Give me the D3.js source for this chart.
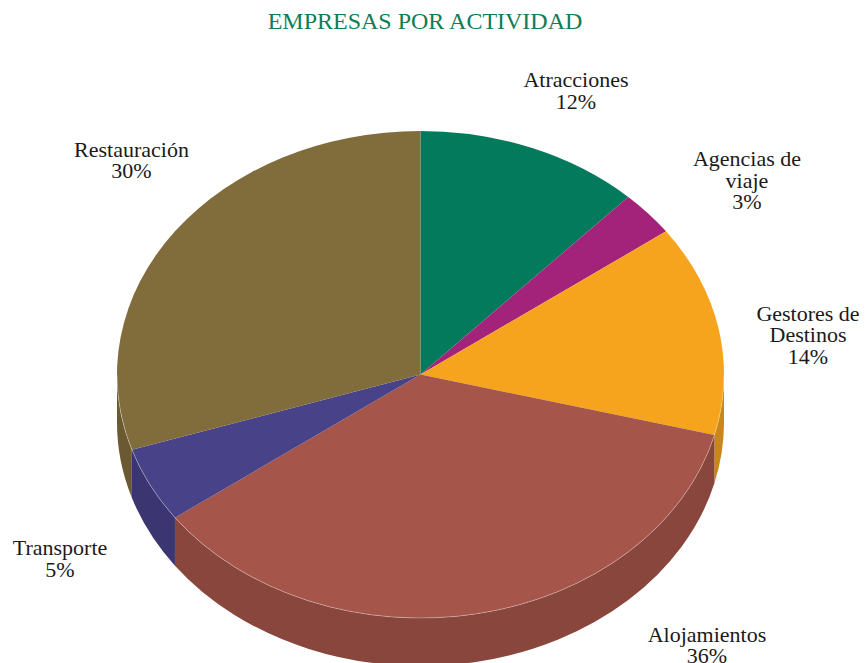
<!DOCTYPE html>
<html>
<head>
<meta charset="utf-8">
<script src="https://cdn.jsdelivr.net/npm/d3@7"></script>
<style>
  body { margin: 0; background: #fff; }
  svg { display: block; font-family: "Liberation Serif", "Times New Roman", serif; }
</style>
</head>
<body>
<div id="chart"></div>
<script>
// data
var categories = ["Atracciones", "Agencias de viaje", "Gestores de Destinos", "Alojamientos", "Transporte", "Restauración"];
var values = [12, 3, 14, 36, 5, 30];
var labelLines = [["Atracciones"], ["Agencias de", "viaje"], ["Gestores de", "Destinos"], ["Alojamientos"], ["Transporte"], ["Restauración"]];
var colors = ["#047a5d", "#a22379", "#f6a41e", "#a5554a", "#484289", "#816c3c"];

const width = 866, height = 663;
const cx = 420.5, cy = 374.5, rx = 303.5, ry = 243.5, depth = 48;

// where each label block is centred (x) and its first baseline (y)
var labelAt = {
  "Atracciones": [576, 87],
  "Agencias de viaje": [747, 166],
  "Gestores de Destinos": [808, 320.5],
  "Alojamientos": [707, 641.5],
  "Transporte": [60, 555],
  "Restauración": [131.5, 156.5]
};

var svg = d3.select("#chart")
  .append("svg")
  .attr("width", width)
  .attr("height", height);

svg.append("text")
  .attr("x", 425)
  .attr("y", 29)
  .attr("text-anchor", "middle")
  .style("font-size", "24px")
  .style("fill", "#0e7d55")
  .text("EMPRESAS POR ACTIVIDAD");

var data = categories.map(function (c, i) { return { name: c, value: values[i], color: colors[i], lines: labelLines[i] }; });

var pie = d3.pie().sort(null).value(function (d) { return d.value; });
var arcs = pie(data);

// angle measured clockwise from 12 o'clock, like d3.pie
function px(a) { return cx + rx * Math.sin(a); }
function py(a) { return cy - ry * Math.cos(a); }

function topPath(d) {
  var large = (d.endAngle - d.startAngle) > Math.PI ? 1 : 0;
  return "M" + cx + "," + cy +
    "L" + px(d.startAngle) + "," + py(d.startAngle) +
    "A" + rx + "," + ry + " 0 " + large + " 1 " + px(d.endAngle) + "," + py(d.endAngle) + "Z";
}

// front half of the rim runs from PI/2 to 3PI/2
function sidePath(d) {
  var a0 = Math.max(d.startAngle, Math.PI / 2), a1 = Math.min(d.endAngle, Math.PI * 1.5);
  if (a1 <= a0) return null;
  return "M" + px(a0) + "," + py(a0) +
    "A" + rx + "," + ry + " 0 0 1 " + px(a1) + "," + py(a1) +
    "L" + px(a1) + "," + (py(a1) + depth) +
    "A" + rx + "," + ry + " 0 0 0 " + px(a0) + "," + (py(a0) + depth) + "Z";
}

function rimPath(d) {
  var a0 = Math.max(d.startAngle, Math.PI / 2), a1 = Math.min(d.endAngle, Math.PI * 1.5);
  if (a1 <= a0) return null;
  return "M" + px(a0) + "," + py(a0) +
    "A" + rx + "," + ry + " 0 0 1 " + px(a1) + "," + py(a1);
}

var g = svg.append("g");

g.selectAll(".side")
  .data(arcs.filter(function (d) { return sidePath(d) !== null; }))
  .join("path")
  .attr("class", "side")
  .attr("d", sidePath)
  .attr("fill", function (d) { return d3.color(d.data.color).darker(0.55); });

g.selectAll(".top")
  .data(arcs)
  .join("path")
  .attr("class", "top")
  .attr("d", topPath)
  .attr("fill", function (d) { return d.data.color; });

g.selectAll(".rim")
  .data(arcs.filter(function (d) { return rimPath(d) !== null; }))
  .join("path")
  .attr("class", "rim")
  .attr("d", rimPath)
  .attr("fill", "none")
  .attr("stroke", "rgba(255,255,255,0.3)")
  .attr("stroke-width", 1);

// labels
var labels = svg.selectAll(".label")
  .data(arcs)
  .join("text")
  .attr("class", "label")
  .attr("text-anchor", "middle")
  .style("font-size", "22px")
  .style("fill", "#1a1a1a");

labels.each(function (d) {
  var pos = labelAt[d.data.name];
  var t = d3.select(this);
  var lines = d.data.lines.concat([d.data.value + "%"]);
  lines.forEach(function (l, i) {
    t.append("tspan")
      .attr("x", pos[0])
      .attr("y", pos[1] + i * 21.7)
      .text(l);
  });
});
</script>
</body>
</html>
